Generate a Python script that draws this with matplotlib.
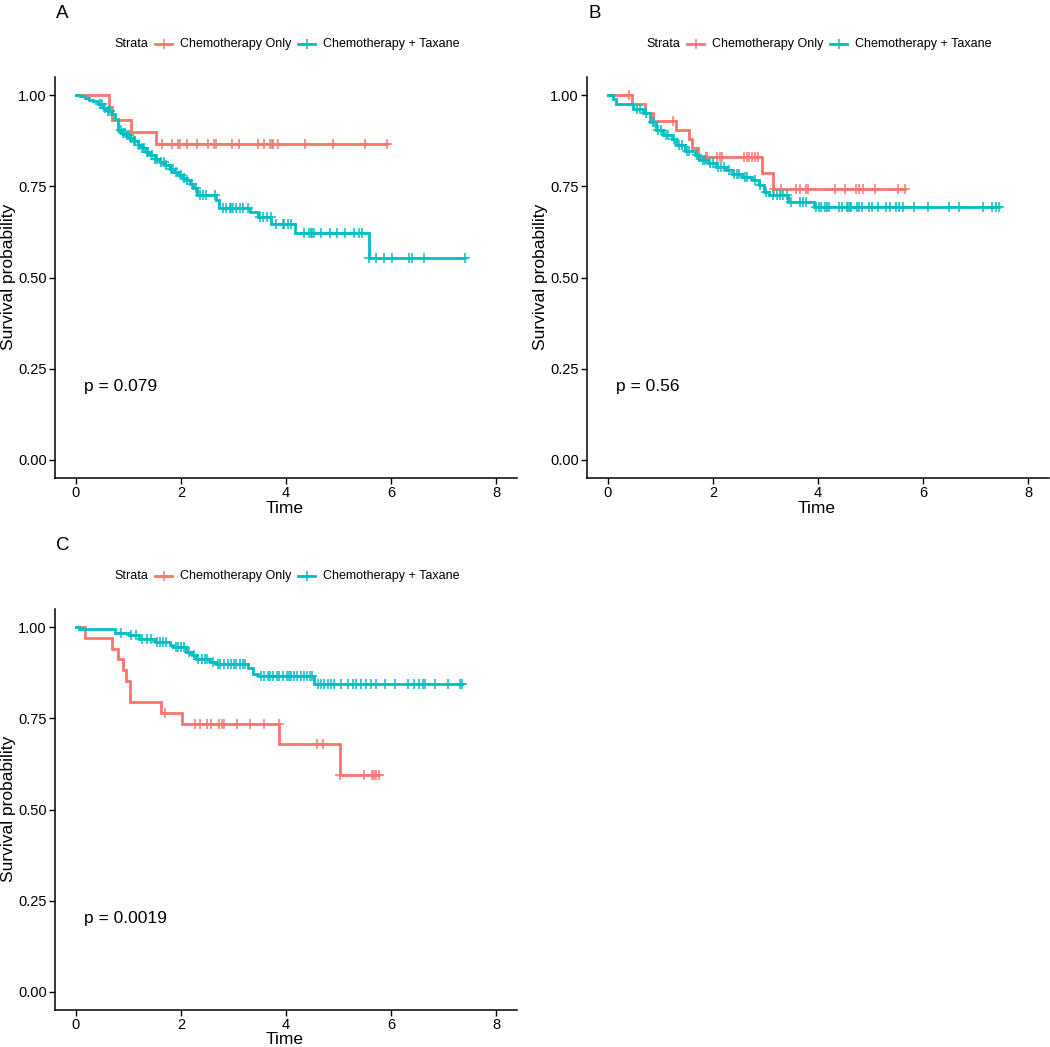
import numpy as np
import matplotlib
matplotlib.use("Agg")
import matplotlib.pyplot as plt
from matplotlib.lines import Line2D

plt.rcParams['font.family'] = ['Liberation Sans', 'DejaVu Sans']

RED = "#F8766D"
CYAN = "#00BFC4"
labels = ["Chemotherapy Only", "Chemotherapy + Taxane"]

# ---- panel A ----
a_red_t = [0, 0.63, 0.69, 1.05, 1.53]
a_red_s = [1.0, 0.967, 0.933, 0.900, 0.867]
a_red_cens = [1.64, 1.83, 1.95, 1.99, 2.12, 2.31, 2.52, 2.63, 2.67, 2.97, 3.10, 3.46,
              3.59, 3.70, 3.73, 3.75, 3.85, 4.36, 4.89, 5.51, 5.92]
a_cy_t = [0, 0.08, 0.17, 0.25, 0.33, 0.42, 0.52, 0.60, 0.68, 0.75, 0.80, 0.87, 0.95,
          1.03, 1.10, 1.18, 1.25, 1.33, 1.41, 1.50, 1.60, 1.70, 1.79, 1.87, 1.95, 2.03,
          2.10, 2.17, 2.23, 2.30, 2.67, 2.72, 3.31, 3.46, 3.72, 4.18, 5.59]
a_cy_s = [1.0, 0.997, 0.993, 0.988, 0.983, 0.975, 0.965, 0.957, 0.948, 0.935, 0.905,
          0.897, 0.890, 0.884, 0.875, 0.864, 0.855, 0.845, 0.836, 0.826, 0.817, 0.808,
          0.799, 0.790, 0.781, 0.774, 0.767, 0.757, 0.745, 0.726, 0.712, 0.691, 0.680,
          0.667, 0.648, 0.623, 0.553]
a_cy_cens = [0.45, 0.50, 0.55, 0.60, 0.65, 0.85, 0.90, 0.93, 0.97, 1.00, 1.05, 1.10,
             1.13, 1.20, 1.25, 1.30, 1.35, 1.38, 1.45, 1.50, 1.55, 1.62, 1.68, 1.72,
             1.80, 1.85, 1.90, 2.00, 2.05, 2.12, 2.20, 2.28, 2.36, 2.42, 2.48, 2.64,
             2.80, 2.86, 2.93, 2.96, 2.99, 3.05, 3.12, 3.18, 3.28, 3.50, 3.56, 3.63,
             3.71, 3.80, 3.94, 3.97, 4.04, 4.10, 4.35, 4.43, 4.47, 4.50, 4.54, 4.67,
             4.83, 4.97, 5.13, 5.30, 5.39, 5.45, 5.59, 5.72, 5.86, 6.02, 6.35, 6.40,
             6.62, 7.40]

# ---- panel B ----
b_red_t = [0, 0.45, 0.70, 0.86, 1.29, 1.54, 1.60, 1.72, 2.94, 3.14]
b_red_s = [1.0, 0.977, 0.952, 0.929, 0.904, 0.879, 0.856, 0.831, 0.788, 0.744]
b_red_cens = [0.40, 1.24, 1.86, 1.89, 2.07, 2.13, 2.18, 2.59, 2.64, 2.69, 2.75, 2.80,
              2.85, 3.16, 3.30, 3.59, 3.65, 3.78, 3.80, 4.32, 4.52, 4.73, 4.79, 4.85,
              5.08, 5.52, 5.66]
b_cy_t = [0, 0.10, 0.16, 0.48, 0.67, 0.80, 0.92, 1.05, 1.21, 1.30, 1.46, 1.65, 1.74,
          1.90, 2.06, 2.25, 2.37, 2.56, 2.75, 2.88, 2.98, 3.07, 3.43, 3.92]
b_cy_s = [1.0, 0.989, 0.977, 0.963, 0.952, 0.927, 0.904, 0.890, 0.881, 0.863, 0.847,
          0.836, 0.822, 0.813, 0.802, 0.796, 0.785, 0.775, 0.767, 0.753, 0.735, 0.726,
          0.708, 0.694]
b_cy_cens = [0.55, 0.60, 0.72, 0.85, 0.88, 0.95, 1.00, 1.10, 1.15, 1.25, 1.35, 1.40,
             1.50, 1.55, 1.70, 1.80, 1.85, 1.95, 2.00, 2.10, 2.15, 2.20, 2.30, 2.40,
             2.45, 2.50, 2.60, 2.65, 2.80, 2.90, 3.00, 3.14, 3.21, 3.27, 3.33, 3.40,
             3.49, 3.65, 3.71, 3.78, 3.97, 4.02, 4.06, 4.13, 4.17, 4.21, 4.40, 4.46,
             4.55, 4.58, 4.60, 4.63, 4.74, 4.79, 4.84, 4.98, 5.03, 5.15, 5.30, 5.37,
             5.48, 5.54, 5.61, 5.82, 6.09, 6.50, 6.69, 7.14, 7.31, 7.39, 7.45]

# ---- panel C ----
c_red_t = [0, 0.17, 0.69, 0.80, 0.90, 0.96, 1.03, 1.61, 2.01, 3.87, 5.02]
c_red_s = [1.0, 0.971, 0.941, 0.912, 0.882, 0.853, 0.795, 0.766, 0.734, 0.679, 0.595]
c_red_cens = [1.69, 2.26, 2.36, 2.50, 2.58, 2.72, 2.79, 2.81, 3.07, 3.31, 3.58, 3.86,
              4.59, 4.71, 5.03, 5.48, 5.63, 5.67, 5.72, 5.78]
c_cy_t = [0, 0.05, 0.74, 1.00, 1.20, 1.50, 1.79, 1.85, 2.10, 2.20, 2.29, 2.55, 2.67,
          3.28, 3.37, 3.47, 4.54]
c_cy_s = [1.0, 0.995, 0.985, 0.978, 0.969, 0.960, 0.951, 0.946, 0.932, 0.923, 0.914,
          0.905, 0.899, 0.887, 0.873, 0.866, 0.843]
c_cy_cens = [0.85, 1.05, 1.15, 1.25, 1.35, 1.42, 1.55, 1.60, 1.65, 1.72, 1.90, 1.95,
             2.00, 2.05, 2.15, 2.25, 2.32, 2.40, 2.45, 2.50, 2.60, 2.70, 2.75, 2.82,
             2.90, 2.95, 3.00, 3.05, 3.12, 3.18, 3.22, 3.53, 3.59, 3.66, 3.70, 3.75,
             3.82, 3.87, 3.94, 4.01, 4.06, 4.10, 4.15, 4.21, 4.29, 4.35, 4.40, 4.45,
             4.50, 4.61, 4.67, 4.73, 4.80, 4.86, 4.92, 5.05, 5.18, 5.27, 5.34, 5.43,
             5.53, 5.62, 5.72, 5.89, 6.08, 6.32, 6.44, 6.53, 6.60, 6.65, 6.84, 7.09,
             7.32, 7.36]

pvals = ["p = 0.079", "p = 0.56", "p = 0.0019"]

W, H = 1050, 1047
fig = plt.figure(figsize=(W / 100, H / 100), dpi=100)


def fx(x):
    return x / W


def fy(y):
    return 1 - y / H


def km(ax, t, s, cens, color):
    t = np.asarray(t, float)
    s = np.asarray(s, float)
    end = max(cens[-1], t[-1])
    tt = np.append(t, end)
    ss = np.append(s, s[-1])
    ax.step(tt, ss, where='post', color=color, lw=2.0, solid_joinstyle='miter')
    idx = np.searchsorted(t, cens, side='right') - 1
    ax.plot(cens, s[idx], ls='none', marker='+', ms=7.5, mew=1.1, color=color)


def panel(left_px, top_px, letter, data, ptxt):
    bottom_px = top_px + 401
    ax = fig.add_axes([fx(left_px), fy(bottom_px), 462 / W, 401 / H])
    for t, s, c, col in data:
        km(ax, t, s, c, col)
    ax.set_xlim(-0.4, 8.4)
    ax.set_ylim(-0.05, 1.05)
    ax.set_xticks([0, 2, 4, 6, 8])
    ax.set_yticks([0, 0.25, 0.5, 0.75, 1.0])
    ax.set_yticklabels(["0.00", "0.25", "0.50", "0.75", "1.00"])
    for sp in ['top', 'right']:
        ax.spines[sp].set_visible(False)
    for sp in ['left', 'bottom']:
        ax.spines[sp].set_linewidth(1.1)
    ax.tick_params(labelsize=10.5, length=4, width=1.0, colors='black', pad=2)
    ax.text(0.15, 0.2, ptxt, fontsize=12.5, ha='left', va='center')

    # axis titles
    fig.text(fx(left_px + 230), fy(bottom_px + 30), "Time", fontsize=12.5,
             ha='center', va='center')
    fig.text(fx(left_px - 46), fy(top_px + 200), "Survival probability", fontsize=12.5,
             ha='center', va='center', rotation=90)

    # panel letter
    fig.text(fx(left_px + 1), fy(top_px - 64), letter, fontsize=13.5, ha='left', va='center')
    # legend row
    ly = top_px - 33
    x0 = left_px + 59
    fig.text(fx(x0), fy(ly), "Strata", fontsize=9, ha='left', va='center')
    for k0, tx0, col, lab in [(x0 + 41, x0 + 66, RED, labels[0]),
                              (x0 + 184, x0 + 209, CYAN, labels[1])]:
        fig.add_artist(Line2D([fx(k0), fx(k0 + 17)], [fy(ly), fy(ly)], color=col, lw=2.0,
                              transform=fig.transFigure))
        fig.add_artist(Line2D([fx(k0 + 8.5)], [fy(ly)], marker='+', ms=7.5, mew=1.1, color=col,
                              ls='none', transform=fig.transFigure))
        fig.text(fx(tx0), fy(ly), lab, fontsize=9, ha='left', va='center')
    return ax


panel(55, 77, "A", [(a_red_t, a_red_s, a_red_cens, RED), (a_cy_t, a_cy_s, a_cy_cens, CYAN)], pvals[0])
panel(587, 77, "B", [(b_red_t, b_red_s, b_red_cens, RED), (b_cy_t, b_cy_s, b_cy_cens, CYAN)], pvals[1])
panel(55, 609, "C", [(c_red_t, c_red_s, c_red_cens, RED), (c_cy_t, c_cy_s, c_cy_cens, CYAN)], pvals[2])

fig.savefig("out.png", dpi=100)
